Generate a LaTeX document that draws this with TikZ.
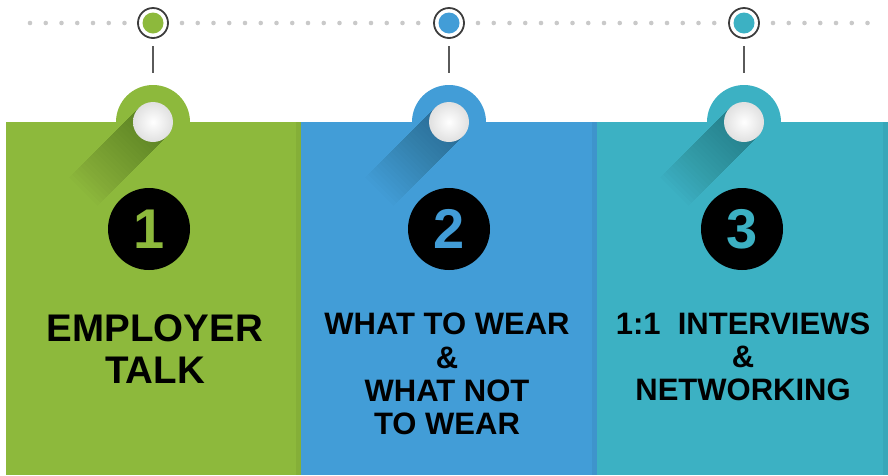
\documentclass[tikz,border=0pt]{standalone}
\usepackage{fontspec}
\setmainfont{Liberation Sans}
\usetikzlibrary{calc}
\definecolor{PanelGreen}{HTML}{8DB93C}
\definecolor{PanelBlue}{HTML}{429DD7}
\definecolor{PanelTeal}{HTML}{3CB1C3}
\definecolor{DotGrey}{HTML}{C9C9C9}
\definecolor{RingGrey}{HTML}{3C3C3C}
\definecolor{StemGrey}{HTML}{5A5A5A}

\begin{document}
\begin{tikzpicture}[x=1pt,y=-1pt, every node/.style={inner sep=0pt,outer sep=0pt},
  ring/.style={circle,draw=RingGrey,line width=1.8pt,fill=white,minimum size=30pt},
  stem/.style={draw=StemGrey,line width=1.6pt,shorten <=8pt,shorten >=12pt},
  tabdisc/.style={circle,minimum size=74pt},
  ball/.style={circle,minimum size=40pt,inner color=white,outer color=black!12},
  numdisc/.style={circle,fill=black,minimum size=82pt,font=\fontsize{56}{56}\selectfont\bfseries},
  talk/.style={align=center,font=\fontsize{31}{33.3}\selectfont\bfseries}]
  \useasboundingbox (0,0) rectangle (888,475);
  % dotted timeline
  \foreach \xs/\m in {30/6,182/15,478/15,773/6}
    \foreach \k in {0,...,\m}
      \fill[DotGrey] (\xs+15.75*\k,23) circle (2.3);
  \foreach \cx/\nx/\xa/\xb/\col/\n in {153/149/6/301/PanelGreen/1,449/449/301/597/PanelBlue/2,744/742/597/888/PanelTeal/3}{
    \fill[\col] (\xa,122) rectangle (\xb,475);
    \fill[black,opacity=.05] (\xb-5,122) rectangle (\xb,475);
    \node[tabdisc,fill=\col] (tab\n) at (\cx,122) {};
    \begin{scope}
      \clip (\xa,80) rectangle (\xb,475);
      \foreach \s in {1,...,24}
        \fill[black,opacity=.012] ($(\cx,122)+(14.14,14.14)$) -- ++(-2.9*\s,2.9*\s) -- ++(-28.28,-28.28) -- ($(\cx,122)+(-14.14,-14.14)$) -- cycle;
    \end{scope}
    \node[ball] (ball\n) at (\cx,122) {};
    \node[ring] (ring\n) at (\cx,23) {};
    \fill[\col] (ring\n) circle (10.5);
    \draw[stem] (ring\n) -- (tab\n);
    \node[numdisc,text=\col] (num\n) at (\nx,229) {\n};
  }
  \node[talk,font=\fontsize{38.5}{42}\selectfont\bfseries] (talk1) at (155,349) {EMPLOYER\\TALK};
  \node[talk] (talk2) at (447,374) {WHAT TO WEAR\\\&\\WHAT NOT\\TO WEAR};
  \node[talk] (talk3) at (743,357) {1:1\ \ INTERVIEWS\\\&\\NETWORKING};
\end{tikzpicture}
\end{document}
